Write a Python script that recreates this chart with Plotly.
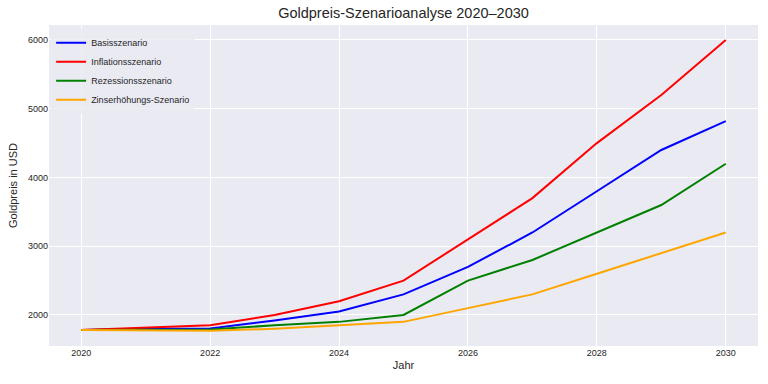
import plotly.graph_objects as go

years = [2020, 2021, 2022, 2023, 2024, 2025, 2026, 2027, 2028, 2029, 2030]
basis = [1780, 1800, 1805, 1920, 2050, 2300, 2700, 3200, 3800, 4400, 4820]
inflation = [1780, 1820, 1850, 2000, 2200, 2500, 3100, 3700, 4500, 5200, 6000]
rezession = [1780, 1790, 1790, 1850, 1900, 2000, 2500, 2800, 3200, 3600, 4200]
zins = [1780, 1775, 1770, 1800, 1850, 1900, 2100, 2300, 2600, 2900, 3200]

series = [
    ("Basisszenario", basis, "blue"),
    ("Inflationsszenario", inflation, "red"),
    ("Rezessionsszenario", rezession, "green"),
    ("Zinserhöhungs-Szenario", zins, "orange"),
]

fig = go.Figure()
for name, vals, col in series:
    fig.add_trace(go.Scatter(x=years, y=vals, mode="lines", name=name,
                             line=dict(color=col, width=2)))

font = "Liberation Sans, Arial, sans-serif"
fig.update_layout(
    width=768, height=384,
    margin=dict(l=49, r=10, t=25, b=38),
    paper_bgcolor="white",
    plot_bgcolor="#EAEAF2",
    font=dict(family=font, color="#262626", size=10),
    title=dict(text="Goldpreis-Szenarioanalyse 2020–2030", x=0.5, xref="paper",
               xanchor="center", y=0.98, yanchor="top",
               font=dict(size=14.5, color="#262626", family=font)),
    showlegend=True,
    legend=dict(x=0.003, y=0.99, xanchor="left", yanchor="top",
                bgcolor="rgba(234,234,242,0.8)", font=dict(size=9, color="#262626"),
                itemwidth=30, tracegroupgap=0),
    xaxis=dict(range=[2019.5, 2030.5], tickvals=[2020, 2022, 2024, 2026, 2028, 2030],
               gridcolor="white", gridwidth=1, zeroline=False, showline=False,
               ticks="", tickfont=dict(size=9, color="#262626"), automargin=False,
               title=dict(text="Jahr", font=dict(size=11), standoff=4)),
    yaxis=dict(range=[1549, 6218], tickvals=[2000, 3000, 4000, 5000, 6000],
               gridcolor="white", gridwidth=1, zeroline=False, showline=False,
               ticks="", tickfont=dict(size=9, color="#262626"), automargin=False,
               title=dict(text="Goldpreis in USD", font=dict(size=11), standoff=8)),
)

fig.write_html("out.html", config={"displayModeBar": False},
               post_script="document.body.style.margin='0';")
